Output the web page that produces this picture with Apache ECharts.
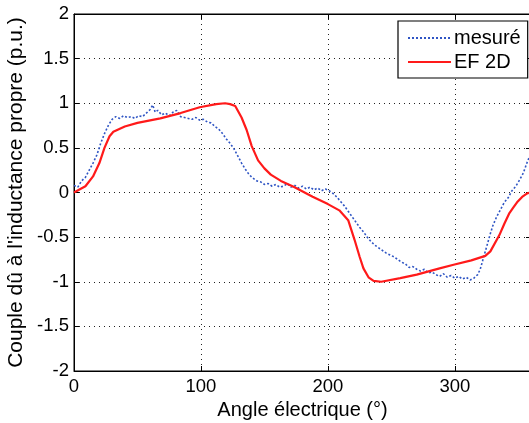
<!DOCTYPE html>
<html><head><meta charset="utf-8">
<script src="https://cdn.jsdelivr.net/npm/echarts@6/dist/echarts.min.js"></script>
<style>html,body{margin:0;padding:0;background:#fff}#c{width:529px;height:423px}</style>
</head><body><div id="c"></div>
<script>
const xTicks = [0, 100, 200, 300];
const yTicks = [-2, -1.5, -1, -0.5, 0, 0.5, 1, 1.5, 2];
const seriesNames = ['mesuré', 'EF 2D'];
const mesureAngle = [0,3,6,9,12,15,18,21,24,27,30,33,36,39,42,45,48,51,54,57,60,62,64,66,69,72,75,78,81,84,87,90,93,96,99,102,105,108,111,114,117,120,123,126,129,132,135,138,141,144,147,150,153,156,159,162,165,168,171,174,177,180,183,186,189,192,195,198,201,204,207,210,213,216,219,222,225,228,231,234,237,240,243,246,249,252,255,258,261,264,267,270,273,276,279,282,285,288,291,294,297,300,303,306,309,312,315,318,320,322,324,326,328,330,333,336,339,342,345,348,351,354,357,360];
const mesureValue = [0.08,0.06,0.13,0.17,0.25,0.33,0.42,0.55,0.66,0.75,0.82,0.85,0.83,0.86,0.84,0.85,0.83,0.86,0.85,0.89,0.93,0.98,0.90,0.92,0.87,0.89,0.86,0.90,0.92,0.85,0.84,0.83,0.82,0.84,0.81,0.82,0.79,0.78,0.74,0.71,0.66,0.60,0.55,0.49,0.41,0.33,0.26,0.20,0.16,0.13,0.12,0.09,0.10,0.07,0.09,0.06,0.07,0.10,0.06,0.08,0.05,0.07,0.04,0.06,0.03,0.05,0.02,0.04,0.02,-0.01,-0.05,-0.10,-0.15,-0.21,-0.27,-0.33,-0.39,-0.44,-0.50,-0.55,-0.59,-0.62,-0.65,-0.68,-0.70,-0.72,-0.75,-0.78,-0.80,-0.84,-0.83,-0.86,-0.88,-0.86,-0.90,-0.89,-0.92,-0.94,-0.91,-0.95,-0.93,-0.96,-0.94,-0.97,-0.95,-0.98,-0.96,-0.92,-0.86,-0.76,-0.66,-0.56,-0.46,-0.37,-0.27,-0.19,-0.11,-0.06,0.02,0.07,0.14,0.22,0.34,0.44];
const efAngle = [0,5,9,15,20,24,28,31,40,50,68,84,99,112,119,123,127,132,136,140,145,150,155,163,173,188,200,209,216,221,225,228,232,236,242,257,270,288,299,313,324,328,335,339,343,346,349,353,357,360];
const efValue = [0.0,0.04,0.07,0.18,0.33,0.50,0.63,0.68,0.74,0.78,0.83,0.89,0.955,0.99,1.0,0.99,0.97,0.84,0.70,0.52,0.36,0.27,0.20,0.13,0.065,-0.047,-0.13,-0.20,-0.31,-0.53,-0.72,-0.85,-0.95,-0.99,-1.0,-0.96,-0.92,-0.85,-0.81,-0.76,-0.71,-0.66,-0.48,-0.35,-0.23,-0.17,-0.11,-0.05,-0.01,0.0];

const font = "'Liberation Sans', Arial, sans-serif";
const chart = echarts.init(document.getElementById('c'));
const tickStyle = {show: true, inside: true, length: 5, lineStyle: {color: '#000', width: 1}};
const gridLine = {show: true, lineStyle: {color: '#222', width: 1, type: [1, 4]}};
chart.setOption({
  animation: false,
  backgroundColor: '#fff',
  textStyle: {fontFamily: font},
  grid: {left: 74, right: -2, top: 14, bottom: 52, show: true, borderColor: '#000', borderWidth: 1,
         containLabel: false, outerBoundsMode: 'none'},
  legend: {
    orient: 'vertical', left: 398, top: 21, padding: [7, 7, 6, 9],
    backgroundColor: '#fff', borderColor: '#000', borderWidth: 1.2, borderRadius: 0,
    itemWidth: 43, itemHeight: 14, itemGap: 4,
    itemStyle: {opacity: 0},
    textStyle: {fontFamily: font, fontSize: 20, lineHeight: 20, color: '#000', padding: [0, 0, 0, -2]},
    data: seriesNames
  },
  xAxis: [{
    type: 'value', min: xTicks[0], max: 360, interval: xTicks[1] - xTicks[0],
    name: 'Angle électrique (°)', nameLocation: 'middle', nameGap: 26,
    nameTextStyle: {fontFamily: font, fontSize: 20, color: '#000'},
    axisLine: {show: true, onZero: false, lineStyle: {color: '#000', width: 1}},
    axisTick: tickStyle,
    axisLabel: {fontFamily: font, fontSize: 18.5, color: '#000', margin: 6, showMaxLabel: false},
    splitLine: gridLine
  }, {
    type: 'value', position: 'top', min: xTicks[0], max: 360, interval: xTicks[1] - xTicks[0],
    axisLine: {show: true, onZero: false, lineStyle: {color: '#000'}}, axisTick: tickStyle,
    axisLabel: {show: false}, splitLine: {show: false}
  }],
  yAxis: [{
    type: 'value', min: yTicks[0], max: yTicks[yTicks.length - 1], interval: yTicks[1] - yTicks[0],
    name: "Couple dû à l'inductance propre (p.u.)", nameLocation: 'middle', nameGap: 46,
    nameTextStyle: {fontFamily: font, fontSize: 21, color: '#000'},
    axisLine: {show: true, onZero: false, lineStyle: {color: '#000', width: 1}},
    axisTick: tickStyle,
    axisLabel: {fontFamily: font, fontSize: 18.5, color: '#000', margin: 5},
    splitLine: gridLine
  }, {
    type: 'value', position: 'right', min: yTicks[0], max: yTicks[yTicks.length - 1], interval: yTicks[1] - yTicks[0],
    axisLine: {show: true, onZero: false, lineStyle: {color: '#000'}}, axisTick: tickStyle,
    axisLabel: {show: false}, splitLine: {show: false}
  }],
  series: [{
    name: seriesNames[0], type: 'line', symbol: 'none', smooth: false,
    data: mesureAngle.map((a, i) => [a, mesureValue[i]]),
    lineStyle: {color: '#2f55c4', width: 1.6, type: [2, 2]},
    itemStyle: {color: '#2f55c4'}
  }, {
    name: seriesNames[1], type: 'line', symbol: 'none', smooth: false,
    data: efAngle.map((a, i) => [a, efValue[i]]),
    lineStyle: {color: '#ff1a1a', width: 2.2},
    itemStyle: {color: '#ff1a1a'}
  }]
});
</script></body></html>
